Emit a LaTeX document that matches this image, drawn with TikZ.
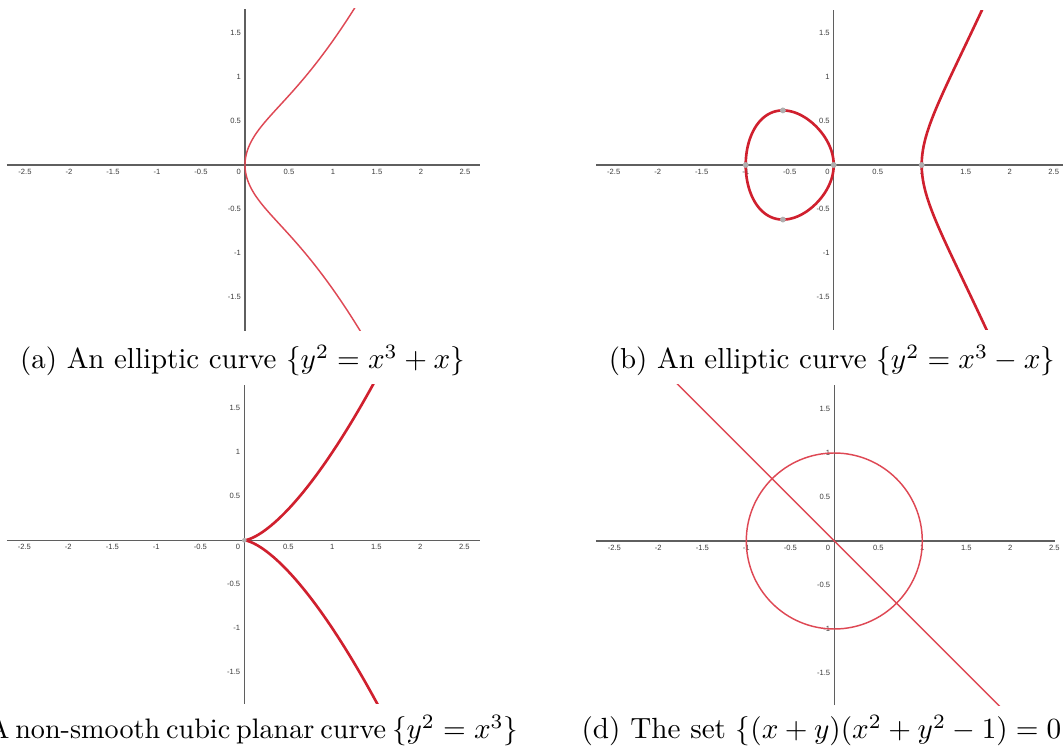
\documentclass[tikz,border=0pt]{standalone}
\usepackage{fontspec}
\newfontfamily\ggfont{Liberation Sans}
\definecolor{axgray}{RGB}{95,95,95}
\definecolor{labgray}{RGB}{60,60,60}
\definecolor{thinred}{RGB}{222,72,84}
\definecolor{thickred}{RGB}{208,32,46}
\definecolor{dotgray}{RGB}{175,175,175}
\tikzset{
  axisline/.style={draw=axgray, line width=0.45pt},
  xlab/.style={font=\ggfont\fontsize{2.6}{3}\selectfont, text=labgray, inner sep=0pt, anchor=north, yshift=-1.1pt},
  ylab/.style={font=\ggfont\fontsize{2.6}{3}\selectfont, text=labgray, inner sep=0pt, anchor=east, xshift=-1.2pt},
  olab/.style={font=\ggfont\fontsize{2.6}{3}\selectfont, text=labgray, inner sep=0pt, anchor=north east, xshift=-1.2pt, yshift=-1.1pt},
  thincurve/.style={draw=thinred, line width=0.5pt, line join=round},
  thickcurve/.style={draw=thickred, line width=0.9pt, line join=round},
  ggdot/.style={circle, fill=dotgray, inner sep=0pt, minimum size=2pt},
  caption/.style={inner sep=0pt, font=\fontsize{9.9}{12}\selectfont}
}
% #1 panel name, #2 xmin, #3 xmax, #4 ymin, #5 ymax
\newcommand\ggaxes[5]{%
  \coordinate (#1-xl) at (#2,0); \coordinate (#1-xr) at (#3,0);
  \coordinate (#1-yb) at (0,#4); \coordinate (#1-yt) at (0,#5);
  \draw[axisline] (#1-xl) -- (#1-xr);
  \draw[axisline] (#1-yb) -- (#1-yt);
  \foreach \v/\n in {-2.5/a,-2/b,-1.5/c,-1/d,-0.5/e,0.5/f,1/g,1.5/h,2/i,2.5/j}
    \node[xlab] (#1-x\n) at (\v,0) {\v};
  \foreach \v/\n in {-1.5/a,-1/b,-0.5/c,0.5/d,1/e,1.5/f}
    \node[ylab] (#1-y\n) at (0,\v) {\v};
  \node[olab] (#1-o) at (0,0) {0};
}
\begin{document}
\begin{tikzpicture}[x=0.3425pt, y=-0.3425pt]
\useasboundingbox (0,0) rectangle (1063,755);
\clip (0,0) rectangle (1063,755);

% ---------- (a) ----------
\begin{scope}[shift={(245,165)}, x=30.14pt, y=30.14pt]
  \ggaxes{pa}{-2.705}{2.67}{-1.886}{1.773}
  \begin{scope}
    \clip (-2.705,-1.886) rectangle (2.67,1.773);
    \draw[thincurve] plot[domain=-1.2:1.15, samples=160, smooth]
      ({\x*\x}, {\x*sqrt(\x*\x*\x*\x+1)});
  \end{scope}
\end{scope}

% ---------- (b) ----------
\begin{scope}[shift={(833.7,165)}, x=30.14pt, y=30.14pt]
  \ggaxes{pb}{-2.70}{2.61}{-1.875}{1.761}
  \begin{scope}
    \clip (-2.70,-1.875) rectangle (2.61,1.761);
    \draw[thickcurve] plot[domain=0:180, samples=180, smooth]
      ({-sin(\x)*sin(\x)}, {sin(\x)*cos(\x)*sqrt(1+sin(\x)*sin(\x))}) -- cycle;
    \draw[thickcurve] plot[domain=-0.95:0.95, samples=160, smooth]
      ({1+\x*\x}, {\x*sqrt((1+\x*\x)*(2+\x*\x))});
  \end{scope}
  \node[ggdot] (pb-p1) at (-1,0) {};
  \node[ggdot] (pb-p2) at (0,0) {};
  \node[ggdot] (pb-p3) at (1,0) {};
  \node[ggdot] (pb-p4) at (-0.57735,0.6204) {};
  \node[ggdot] (pb-p5) at (-0.57735,-0.6204) {};
\end{scope}

% ---------- (c) ----------
\begin{scope}[shift={(244.3,540.3)}, x=30.14pt, y=30.14pt]
  \ggaxes{pc}{-2.697}{2.68}{-1.86}{1.765}
  \begin{scope}
    \clip (-2.697,-1.86) rectangle (2.68,1.765);
    \draw[thickcurve] plot[domain=0:1.3, samples=120, smooth]
      ({\x*\x}, {\x*\x*\x});
    \draw[thickcurve] plot[domain=0:1.3, samples=120, smooth]
      ({\x*\x}, {-\x*\x*\x});
  \end{scope}
  \node[ggdot, minimum size=1.6pt] (pc-p0) at (0,0) {};
\end{scope}

% ---------- (d) ----------
\begin{scope}[shift={(834.3,541)}, x=30.14pt, y=30.14pt]
  \ggaxes{pd}{-2.708}{2.51}{-1.864}{1.773}
  \begin{scope}
    \clip (-2.708,-1.864) rectangle (2.51,1.773);
    \coordinate (pd-c) at (0,0);
    \draw[thincurve] (pd-c) circle[radius=1];
    \coordinate (pd-l1) at (-2,2);
    \coordinate (pd-l2) at (2,-2);
    \draw[thincurve] (pd-l1) -- (pd-l2);
  \end{scope}
\end{scope}

% ---------- captions ----------
\node[caption, anchor=base] (capa) at (242.5,369) {(a) An elliptic curve $\{y^2=x^3+x\}$};
\node[caption, anchor=base] (capb) at (832,369) {(b) An elliptic curve $\{y^2=x^3-x\}$};
\node[caption, anchor=base east, font=\fontsize{9.65}{12}\selectfont] (capc) at (519,739) {\spaceskip=2.0pt\relax(c) A non-smooth cubic planar curve $\{y^2=x^3\}$};
\node[caption, anchor=base west, font=\fontsize{10}{12}\selectfont] (capd) at (581,739) {(d) The set $\{(x+y)(x^2+y^2-1)=0\}$};
\end{tikzpicture}
\end{document}
